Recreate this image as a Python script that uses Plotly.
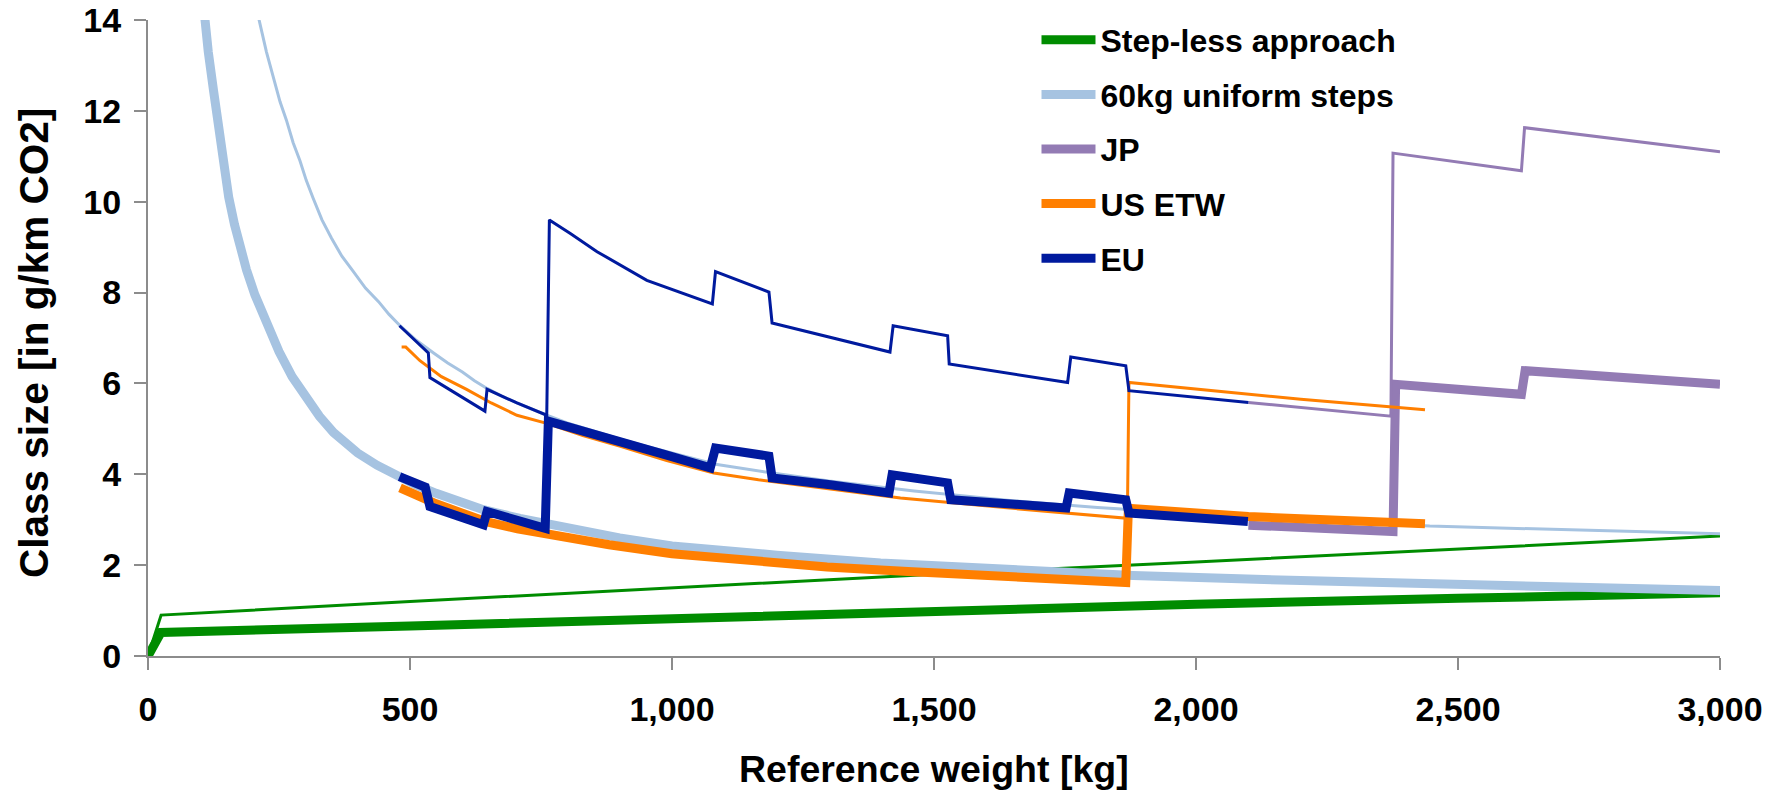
import plotly.graph_objects as go

# ---------------- data ----------------
stepless_thin_x = [0, 25, 500, 1000, 1500, 2000, 2500, 3000]
stepless_thin_y = [0, 0.9, 1.2, 1.5, 1.8, 2.07, 2.36, 2.64]
stepless_thick_x = [0, 25, 500, 1000, 1500, 2000, 2500, 3000]
stepless_thick_y = [0, 0.52, 0.66, 0.83, 0.99, 1.14, 1.27, 1.39]

uniform_thin_x = [200, 212, 226, 240, 252, 264, 277, 290, 302, 315, 332, 350, 370, 392, 415, 440, 460, 481,
                  512, 545, 572, 600, 623, 647, 675, 704, 732, 761, 800, 850, 900, 950, 1015,
                  1083, 1185, 1300, 1462, 1650, 1812, 2100, 2446, 2750, 3000]
uniform_thin_y = [14.7, 14.0, 13.3, 12.7, 12.2, 11.8, 11.3, 10.9, 10.47, 10.08, 9.6, 9.2, 8.8, 8.46, 8.1, 7.8,
                  7.52, 7.27, 6.95, 6.67, 6.45, 6.25, 6.06, 5.89, 5.72, 5.57, 5.43, 5.3, 5.13, 4.95, 4.78,
                  4.62, 4.42, 4.22, 4.04, 3.85, 3.63, 3.42, 3.27, 3.06, 2.86, 2.76, 2.69]
uniform_thick_x = [100, 108, 115, 125, 134, 143, 154, 165, 176, 188, 204, 220, 235, 250, 275, 300, 327, 354,
                   377, 400, 437, 475, 512, 550, 595, 640, 710, 800, 900, 1000, 1100, 1200, 1398, 1600,
                   1880, 2200, 2446, 2700, 3000]
uniform_thick_y = [15.0, 14.0, 13.3, 12.45, 11.6, 10.85, 10.1, 9.5, 8.98, 8.5, 7.95, 7.48, 7.07, 6.7, 6.15,
                   5.7, 5.28, 4.92, 4.68, 4.47, 4.2, 3.96, 3.76, 3.58, 3.39, 3.22, 3.03, 2.82, 2.6, 2.42,
                   2.31, 2.22, 2.05, 1.93, 1.77, 1.66, 1.59, 1.51, 1.44]

jp_thin_x = [2100, 2372, 2376, 2621, 2627, 3000]
jp_thin_y = [5.58, 5.28, 11.07, 10.68, 11.63, 11.1]
jp_thick_x = [2100, 2376, 2381, 2621, 2628, 3000]
jp_thick_y = [2.88, 2.74, 5.98, 5.76, 6.28, 5.98]

us_thin_x = [484, 492, 519, 560, 608, 655, 704, 761, 830, 900, 990, 1080, 1165, 1250, 1340, 1436, 1650,
             1869, 1872, 2200, 2437]
us_thin_y = [6.8, 6.8, 6.5, 6.15, 5.87, 5.57, 5.3, 5.12, 4.85, 4.62, 4.3, 4.03, 3.88, 3.75, 3.61, 3.48, 3.25,
             3.03, 6.02, 5.65, 5.42]
us_thick_x = [481, 515, 550, 600, 647, 705, 767, 880, 1000, 1140, 1296, 1450, 1600, 1866, 1871, 2100, 2437]
us_thick_y = [3.7, 3.52, 3.35, 3.14, 2.95, 2.8, 2.67, 2.45, 2.25, 2.1, 1.96, 1.86, 1.77, 1.62, 3.25, 3.07, 2.91]

eu_thin_x = [480, 535, 538, 643, 647, 704, 761, 766, 806, 857, 952, 1077, 1083, 1185, 1191, 1302, 1416,
             1422, 1526, 1529, 1755, 1761, 1866, 1872, 2100]
eu_thin_y = [7.27, 6.67, 6.13, 5.39, 5.87, 5.57, 5.3, 9.6, 9.3, 8.9, 8.27, 7.75, 8.46, 8.01, 7.33, 7.02, 6.69,
             7.27, 7.05, 6.43, 6.02, 6.58, 6.39, 5.84, 5.58]
eu_thick_x = [480, 529, 538, 640, 647, 700, 758, 764, 889, 985, 1073, 1083, 1185, 1191, 1302, 1414, 1420,
              1526, 1532, 1752, 1758, 1866, 1872, 2099]
eu_thick_y = [3.95, 3.72, 3.29, 2.89, 3.18, 3.0, 2.81, 5.17, 4.73, 4.44, 4.14, 4.58, 4.4, 3.92, 3.77, 3.59, 3.99,
              3.81, 3.44, 3.26, 3.59, 3.44, 3.15, 2.96]

x_ticks = [0, 500, 1000, 1500, 2000, 2500, 3000]
y_ticks = [0, 2, 4, 6, 8, 10, 12, 14]

series = [
    ("Step-less approach", "#008C00", stepless_thin_x, stepless_thin_y, stepless_thick_x, stepless_thick_y),
    ("60kg uniform steps", "#A6C3E1", uniform_thin_x, uniform_thin_y, uniform_thick_x, uniform_thick_y),
    ("JP", "#937BB4", jp_thin_x, jp_thin_y, jp_thick_x, jp_thick_y),
    ("US ETW", "#FF7F00", us_thin_x, us_thin_y, us_thick_x, us_thick_y),
    ("EU", "#001A9E", eu_thin_x, eu_thin_y, eu_thick_x, eu_thick_y),
]

FONT = "Liberation Sans, Arial, sans-serif"

fig = go.Figure()
for i, (name, color, tx, ty, kx, ky) in enumerate(series):
    fig.add_trace(go.Scatter(x=kx, y=ky, mode="lines", name=name, legendgroup=name,
                             line=dict(color=color, width=9), showlegend=True))
    fig.add_trace(go.Scatter(x=tx, y=ty, mode="lines", name=name, legendgroup=name,
                             line=dict(color=color, width=3), showlegend=False))

axis_common = dict(showline=True, linecolor="#8C8C8C", linewidth=2, ticks="outside", ticklen=12,
                   tickwidth=2, tickcolor="#8C8C8C", showgrid=False, zeroline=False, automargin=False,
                   ticklabeloverflow="allow",
                   tickfont=dict(family=FONT, size=34, color="black", weight="bold"))

fig.update_xaxes(range=[0, 3000], tickvals=x_ticks, tickformat=",", ticklabelstandoff=10, **axis_common)
fig.update_yaxes(range=[0, 14], tickvals=y_ticks, ticklabelstandoff=6, **axis_common)

fig.add_annotation(text="<b>Class size [in g/km CO2]</b>", xref="paper", yref="paper",
                   x=-0.0725, y=0.492, xanchor="center", yanchor="middle", textangle=-90,
                   showarrow=False, font=dict(family=FONT, size=40.5, color="black"))
fig.add_annotation(text="<b>Reference weight [kg]</b>", xref="paper", yref="paper",
                   x=0.5, y=-0.177, xanchor="center", yanchor="middle",
                   showarrow=False, font=dict(family=FONT, size=37.5, color="black"))

fig.update_layout(
    width=1780, height=791,
    margin=dict(l=148, r=60, t=20, b=135, autoexpand=False),
    paper_bgcolor="white", plot_bgcolor="white",
    legend=dict(x=0.5652, y=1.0118, xanchor="left", yanchor="top",
                font=dict(family=FONT, size=32, color="black", weight="bold"),
                bgcolor="rgba(0,0,0,0)", tracegroupgap=10, itemwidth=54,
                traceorder="grouped"),
)

# remove the browser's default 8px page margin so the figure fills the window exactly
fig.write_html("out.html", config={"displayModeBar": False},
               post_script="document.body.style.margin='0';")
